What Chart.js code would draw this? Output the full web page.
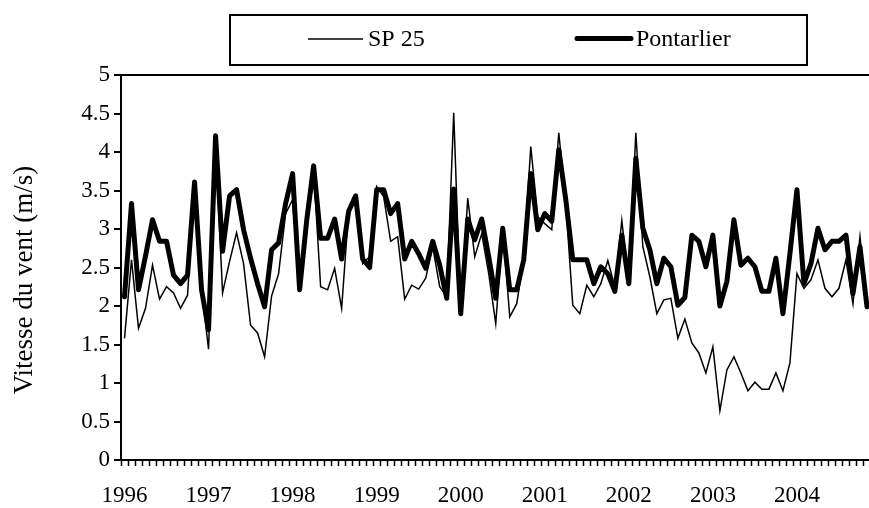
<!DOCTYPE html>
<html lang="fr">
  <head>
    <meta charset="UTF-8" />
    <title>Vitesse du vent</title>
    <script src="https://cdn.jsdelivr.net/npm/chart.js"></script>
    <style>
      html, body { margin: 0; padding: 0; background: #fff; overflow: hidden; }
      #wrap { width: 883px; height: 508px; }
    </style>
  </head>
  <body>
    <div id="wrap"><canvas id="windChart" width="883" height="508"></canvas></div>
    <script>
      // Monthly mean wind speed (m/s), Jan 1996 .. Nov 2004
      const years = ["1996", "1997", "1998", "1999", "2000", "2001", "2002", "2003", "2004"];
      const monthCount = 107;

      const sp25 = [
        1.58, 2.60, 1.71, 1.97, 2.53, 2.09, 2.25, 2.17, 1.97, 2.14, 3.59, 2.21,
        1.44, 4.10, 2.17, 2.58, 2.95, 2.55, 1.75, 1.65, 1.34, 2.13, 2.42, 3.20,
        3.38, 2.21, 3.05, 3.77, 2.25, 2.21, 2.49, 1.97, 3.23, 3.42, 2.55, 2.64,
        3.55, 3.42, 2.84, 2.90, 2.09, 2.27, 2.22, 2.36, 2.77, 2.25, 2.12, 4.51,
        1.90, 3.40, 2.64, 2.94, 2.42, 1.77, 3.01, 1.86, 2.03, 2.62, 4.07, 3.16,
        3.07, 2.99, 4.25, 3.33, 2.01, 1.90, 2.27, 2.12, 2.29, 2.59, 2.25, 3.11,
        2.29, 4.25, 2.77, 2.38, 1.90, 2.08, 2.10, 1.58, 1.83, 1.52, 1.39, 1.13,
        1.47, 0.64, 1.17, 1.34, 1.13, 0.90, 1.01, 0.92, 0.92, 1.13, 0.90, 1.26,
        2.42, 2.23, 2.34, 2.60, 2.23, 2.12, 2.23, 2.60, 2.03, 2.90, 1.99
      ];

      const pontarlier = [
        2.12, 3.33, 2.21, 2.65, 3.12, 2.84, 2.84, 2.40, 2.29, 2.40, 3.61, 2.21,
        1.69, 4.21, 2.71, 3.43, 3.51, 2.99, 2.62, 2.29, 1.99, 2.73, 2.82, 3.33,
        3.72, 2.21, 3.10, 3.82, 2.88, 2.88, 3.13, 2.61, 3.23, 3.43, 2.61, 2.50,
        3.51, 3.51, 3.20, 3.33, 2.61, 2.84, 2.68, 2.49, 2.84, 2.53, 2.10, 3.52,
        1.90, 3.13, 2.86, 3.13, 2.64, 2.10, 3.01, 2.21, 2.21, 2.60, 3.72, 2.99,
        3.20, 3.10, 4.03, 3.38, 2.60, 2.60, 2.60, 2.29, 2.51, 2.42, 2.19, 2.92,
        2.29, 3.92, 3.01, 2.73, 2.29, 2.62, 2.51, 2.01, 2.11, 2.92, 2.84, 2.51,
        2.92, 2.00, 2.32, 3.12, 2.53, 2.62, 2.51, 2.19, 2.19, 2.62, 1.90, 2.68,
        3.51, 2.29, 2.55, 3.01, 2.73, 2.84, 2.84, 2.92, 2.16, 2.77, 1.99
      ];

      const yTitle = "Vitesse du vent (m/s)";

      // category labels "YYYY-MM"
      const months = [];
      for (let i = 0; i < monthCount; i++) {
        const y = years[Math.floor(i / 12)];
        months.push(y + "-" + String((i % 12) + 1).padStart(2, "0"));
      }

      const serif = '"Liberation Serif", "Times New Roman", serif';
      Chart.defaults.font.family = serif;
      Chart.defaults.color = "#000";

      // legend box and y title, drawn like the spreadsheet original
      const legendSpots = [
        { x0: 308, x1: 363, y: 39 },
        { x0: 577, x1: 631, y: 38.5 },
      ];
      const extras = {
        id: "extras",
        afterDraw(chart) {
          const ctx = chart.ctx;
          ctx.save();
          ctx.fillStyle = "#000";
          ctx.strokeStyle = "#000";

          ctx.lineWidth = 2;
          ctx.strokeRect(230, 15, 577, 50);

          ctx.font = "24px " + serif;
          ctx.textBaseline = "middle";
          ctx.textAlign = "left";
          chart.data.datasets.forEach((ds, i) => {
            const s = legendSpots[i];
            ctx.beginPath();
            ctx.lineWidth = ds.borderWidth;
            ctx.lineCap = ds.borderCapStyle;
            ctx.moveTo(s.x0, s.y);
            ctx.lineTo(s.x1, s.y);
            ctx.stroke();
            ctx.fillText(ds.label, s.x1 + 5, 40);
          });

          ctx.translate(25, 280);
          ctx.rotate(-Math.PI / 2);
          ctx.font = "27px " + serif;
          ctx.textAlign = "center";
          ctx.fillText(yTitle, 0, 0);
          ctx.restore();
        },
      };

      new Chart(document.getElementById("windChart"), {
        type: "line",
        data: {
          labels: months,
          datasets: [
            {
              label: "SP 25",
              data: sp25,
              borderColor: "#000",
              borderWidth: 1.5,
              borderCapStyle: "butt",
              borderJoinStyle: "miter",
            },
            {
              label: "Pontarlier",
              data: pontarlier,
              borderColor: "#000",
              borderWidth: 5,
              borderCapStyle: "round",
              borderJoinStyle: "round",
            },
          ],
        },
        options: {
          responsive: false,
          animation: false,
          layout: { padding: { top: 75, right: 4, left: 0, bottom: 0 } },
          elements: { point: { radius: 0 }, line: { tension: 0 } },
          plugins: { legend: { display: false }, tooltip: { enabled: false } },
          scales: {
            x: {
              type: "category",
              offset: true,
              afterFit: (scale) => { scale.height = 48; },
              border: { display: true, color: "#000", width: 2 },
              grid: {
                offset: true,
                drawOnChartArea: false,
                tickLength: 6,
                tickColor: "#000",
                tickWidth: 1.5,
              },
              ticks: {
                autoSkip: false,
                maxRotation: 0,
                padding: 16,
                font: { size: 23 },
                callback: (v, i) => (i % 12 === 0 ? years[i / 12] : ""),
              },
            },
            y: {
              min: 0,
              max: 5,
              afterFit: (scale) => { scale.width = 121; },
              border: { display: true, color: "#000", width: 2 },
              grid: {
                color: (c) => (c.tick && c.tick.value === 5 ? "#000" : "rgba(0,0,0,0)"),
                lineWidth: 2,
                tickColor: "#000",
                tickWidth: 2,
                tickLength: 7,
              },
              ticks: {
                stepSize: 0.5,
                padding: 4,
                font: { size: 23 },
                callback: (v) => String(v),
              },
            },
          },
        },
        plugins: [extras],
      });
    </script>
  </body>
</html>
